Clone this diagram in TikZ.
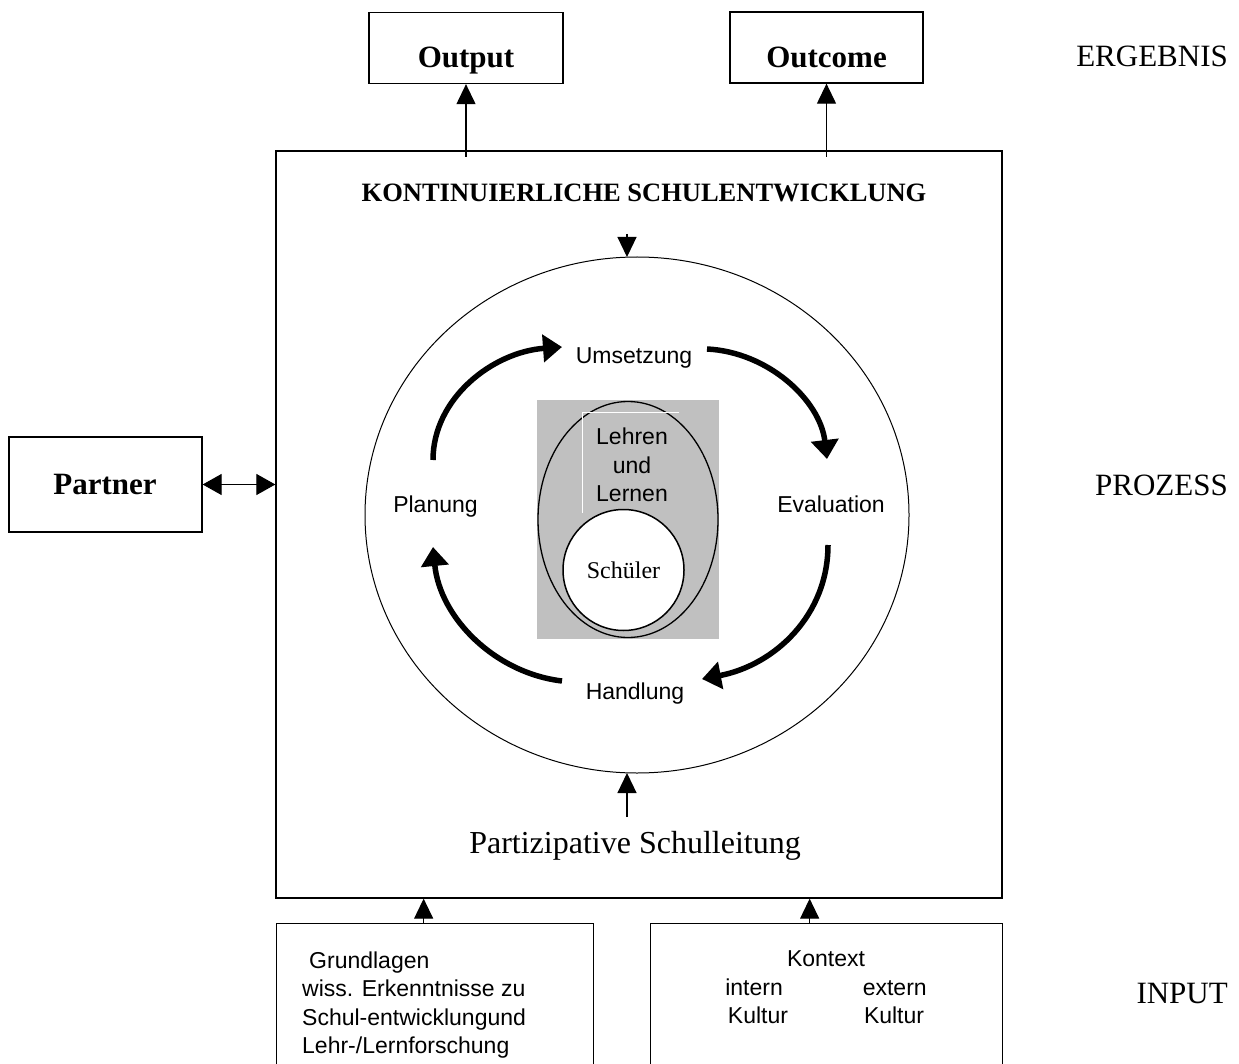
\documentclass[tikz,border=0pt]{standalone}
\usepackage{fontspec}
\setmainfont{Liberation Serif}
\setsansfont{Liberation Sans}
\usetikzlibrary{arrows.meta,shapes.geometric}
\definecolor{silver}{HTML}{C0C0C0}
\begin{document}
\begin{tikzpicture}[x=1pt,y=-1pt,
  box/.style={draw, line width=1.3pt, inner sep=0pt},
  arr/.style={line width=1.2pt, -{Triangle[length=20pt,width=19pt]}},
  darr/.style={line width=1.2pt, {Triangle[length=19pt,width=21pt]}-{Triangle[length=19pt,width=21pt]}},
  cyc/.style={line width=5.5pt, -{Triangle[length=19pt,width=27pt]}},
  bl/.style={font=\bfseries\fontsize{31}{37}\selectfont, inner sep=0pt, anchor=base},
  sf/.style={font=\sffamily\fontsize{23}{28.5}\selectfont, inner sep=0pt},
  sfb/.style={sf, anchor=base},
  side/.style={font=\fontsize{31}{36}\selectfont, inner sep=0pt, anchor=base east}]
\useasboundingbox (0,0) rectangle (1239,1064);
\fill[white] (0,0) rectangle (1239,1064);
\clip (0,0) rectangle (1239,1064);

% main frame
\node[box, minimum width=726pt, minimum height=747pt] (main) at (639,524.5) {};

% result boxes
\node[box, minimum width=194pt, minimum height=71pt] (out) at (466,48) {};
\node[bl] (outT) at (466,68) {Output};
\node[box, minimum width=193pt, minimum height=71pt] (outc) at (826.5,47.5) {};
\node[bl] (outcT) at (826.5,68) {Outcome};

% partner
\node[box, minimum width=193pt, minimum height=95pt] (partner) at (105.5,484.5) {};
\node[bl] (partT) at (105,494) {Partner};

% title
\node[font=\bfseries\fontsize{26.5}{30}\selectfont, anchor=base, inner sep=0pt] (title) at (644,202) {KONTINUIERLICHE SCHULENTWICKLUNG};

% big ellipse
\node[draw, ellipse, minimum width=544pt, minimum height=516pt, inner sep=0pt, line width=1pt] (big) at (637,515) {};

% centre
\node[fill=silver, minimum width=182pt, minimum height=239pt, inner sep=0pt] (gray) at (628,519.5) {};
\node[draw, ellipse, minimum width=180pt, minimum height=236pt, inner sep=0pt, line width=1.3pt] (ll) at (628,519.5) {};
\node[draw, circle, fill=white, minimum size=121pt, inner sep=0pt, line width=1.5pt, font=\fontsize{24}{28}\selectfont] (sch) at (623.5,570) {Sch\"uler};
\draw[white, line width=0.6pt] (582,513) -- (582,412) -- (679,412);
\node[sf, align=center] (llT) at (632,465) {Lehren\\und\\Lernen};

% cycle labels
\node[sfb] (ums) at (634,363) {Umsetzung};
\node[sfb] (plan) at (435.5,512) {Planung};
\node[sfb] (eval) at (831,512) {Evaluation};
\node[sfb] (hand) at (635,699) {Handlung};

% cycle arrows
\coordinate (c1s) at (433,460); \coordinate (c1e) at (562,347);
\coordinate (c2s) at (707,349); \coordinate (c2e) at (827,459);
\coordinate (c3s) at (828,545); \coordinate (c3e) at (702,679);
\coordinate (c4s) at (562,681); \coordinate (c4e) at (433,547);
\draw[cyc] (c1s) .. controls (433,398) and (493,352) .. (c1e);
\draw[cyc] (c2s) .. controls (768,352) and (820,400) .. (c2e);
\draw[cyc] (c3s) .. controls (828,615) and (775,665) .. (c3e);
\draw[cyc] (c4s) .. controls (495,673) and (440,618) .. (c4e);

% leadership
\node[font=\fontsize{32}{38}\selectfont, anchor=base, inner sep=0pt] (psl) at (635,853) {Partizipative Schulleitung};

% side labels
\node[side] (erg) at (1228,67) {ERGEBNIS};
\node[side] (proz) at (1228,495) {PROZESS};
\node[side] (inp) at (1228,1003) {INPUT};

% input boxes
\node[box, minimum width=317pt, minimum height=150pt, anchor=north west] (in1) at (276,923) {};
\node[box, minimum width=352pt, minimum height=150pt, anchor=north west] (in2) at (650,923) {};
\node[sf, align=left, anchor=north west] (in1T) at (302,951.5) {\hspace*{7pt}Grundlagen\\wiss. Erkenntnisse zu\\Schul-entwicklungund\\Lehr-/Lernforschung};
\node[sf, align=center, anchor=north] (in2T) at (826,950.5) {Kontext\\intern\hspace{80pt}extern\\Kultur\hspace{76pt}Kultur};

% connectors
\coordinate (o1) at (466,157);
\coordinate (o2) at (826.5,157);
\draw[arr] (o1) -- (out.south);
\draw[arr] (o2) -- (outc.south);
\draw[darr] (partner.east) -- (partner.east -| main.west);
\coordinate (t1) at (627,234); \coordinate (t2) at (627,257);
\draw[arr] (t1) -- (t2);
\coordinate (b1) at (627,817); \coordinate (b2) at (627,773);
\draw[arr] (b1) -- (b2);
\draw[arr] ([xshift=-11.5pt]in1.north) -- ([xshift=-11.5pt]in1.north |- main.south);
\draw[arr] ([xshift=-17pt]in2.north) -- ([xshift=-17pt]in2.north |- main.south);
\end{tikzpicture}
\end{document}
